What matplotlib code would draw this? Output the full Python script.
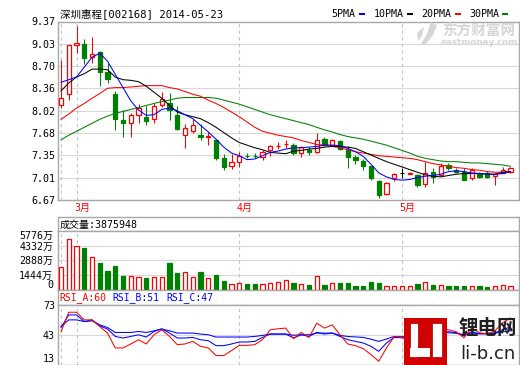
import numpy as np
import matplotlib
matplotlib.use("Agg")
import matplotlib.pyplot as plt
from matplotlib.patches import Rectangle, Polygon

plt.rcParams["font.family"] = ["DejaVu Sans Mono", "Noto Sans CJK SC"]

# ── data ────────────────────────────────────────────────────────────
TITLE = "深圳惠程[002168] 2014-05-23"

opens = [8.10, 8.27, 9.02, 9.03, 8.83, 8.91, 8.60, 8.28, 7.88, 7.83,
         7.96, 7.92, 7.89, 8.10, 8.13, 7.96, 7.66, 7.71, 7.65, 7.62,
         7.58, 7.30, 7.19, 7.25, 7.34, 7.34, 7.32, 7.42, 7.48, 7.51,
         7.50, 7.38, 7.42, 7.39, 7.59, 7.50, 7.56, 7.42, 7.32, 7.26,
         7.18, 6.95, 6.76, 7.00, 7.08, 7.07, 7.05, 6.91, 7.10, 7.05,
         7.20, 7.12, 7.10, 7.00, 7.08, 7.08, 7.03, 7.08, 7.09]
highs = [8.79, 9.02, 9.30, 9.10, 9.14, 8.92, 8.74, 8.32, 8.03, 7.99,
         8.12, 8.09, 8.13, 8.31, 8.29, 8.09, 7.82, 7.89, 7.82, 7.70,
         7.60, 7.37, 7.37, 7.39, 7.38, 7.38, 7.43, 7.50, 7.54, 7.58,
         7.53, 7.48, 7.47, 7.69, 7.63, 7.59, 7.58, 7.48, 7.35, 7.29,
         7.19, 6.97, 6.94, 7.08, 7.15, 7.10, 7.07, 7.25, 7.15, 7.23,
         7.23, 7.15, 7.15, 7.15, 7.10, 7.11, 7.07, 7.17, 7.17]
lows = [8.06, 8.18, 8.90, 8.72, 8.74, 8.40, 8.44, 7.73, 7.62, 7.63,
        7.84, 7.80, 7.84, 8.07, 7.88, 7.73, 7.45, 7.68, 7.58, 7.50,
        7.27, 7.13, 7.14, 7.17, 7.30, 7.30, 7.27, 7.33, 7.44, 7.45,
        7.35, 7.32, 7.35, 7.38, 7.48, 7.49, 7.43, 7.16, 7.22, 7.13,
        6.97, 6.70, 6.75, 6.95, 7.01, 7.06, 6.87, 6.86, 6.93, 7.04,
        7.13, 7.08, 6.97, 6.98, 7.00, 7.00, 6.90, 7.08, 7.08]
closes = [8.22, 9.01, 9.04, 8.82, 8.88, 8.60, 8.50, 7.89, 7.84, 7.95,
          8.06, 7.87, 8.09, 8.20, 8.03, 7.75, 7.76, 7.80, 7.63, 7.64,
          7.30, 7.17, 7.25, 7.34, 7.33, 7.33, 7.40, 7.49, 7.49, 7.52,
          7.38, 7.47, 7.39, 7.58, 7.50, 7.58, 7.44, 7.32, 7.27, 7.19,
          7.00, 6.75, 6.92, 7.07, 7.08, 7.08, 6.90, 7.08, 7.02, 7.18,
          7.16, 7.10, 6.98, 7.12, 7.02, 7.02, 7.06, 7.13, 7.16]

ma5 = [8.45, 8.49, 8.53, 8.68, 8.83, 8.89, 8.77, 8.57, 8.37, 8.17,
       8.03, 7.95, 7.96, 8.04, 8.06, 8.02, 7.96, 7.90, 7.80, 7.70,
       7.59, 7.47, 7.38, 7.34, 7.28, 7.29, 7.34, 7.39, 7.41, 7.44,
       7.46, 7.46, 7.47, 7.48, 7.50, 7.50, 7.49, 7.45, 7.40, 7.33,
       7.21, 7.08, 7.02, 6.98, 6.97, 6.98, 7.01, 7.03, 7.04, 7.06,
       7.10, 7.11, 7.10, 7.08, 7.07, 7.06, 7.06, 7.07, 7.10]
ma10 = [8.32, 8.44, 8.53, 8.58, 8.65, 8.65, 8.64, 8.53, 8.49, 8.48,
        8.46, 8.39, 8.30, 8.21, 8.10, 8.00, 7.96, 7.93, 7.90, 7.84,
        7.77, 7.69, 7.61, 7.54, 7.50, 7.46, 7.43, 7.39, 7.38, 7.37,
        7.41, 7.42, 7.44, 7.45, 7.47, 7.48, 7.48, 7.47, 7.45, 7.40,
        7.35, 7.30, 7.25, 7.21, 7.17, 7.13, 7.09, 7.05, 7.03, 7.02,
        7.04, 7.06, 7.07, 7.07, 7.07, 7.06, 7.06, 7.09, 7.10]
ma20 = [7.89, 7.97, 8.06, 8.13, 8.21, 8.28, 8.36, 8.37, 8.37, 8.38,
        8.39, 8.40, 8.40, 8.40, 8.37, 8.35, 8.31, 8.27, 8.24, 8.18,
        8.13, 8.07, 8.00, 7.93, 7.85, 7.77, 7.71, 7.68, 7.65, 7.63,
        7.61, 7.57, 7.54, 7.51, 7.50, 7.48, 7.46, 7.43, 7.40, 7.38,
        7.36, 7.34, 7.33, 7.32, 7.31, 7.30, 7.28, 7.25, 7.22, 7.20,
        7.18, 7.16, 7.15, 7.13, 7.12, 7.10, 7.09, 7.09, 7.10]
ma30 = [7.58, 7.65, 7.71, 7.77, 7.83, 7.89, 7.94, 7.98, 8.01, 8.04,
        8.07, 8.10, 8.13, 8.16, 8.18, 8.21, 8.22, 8.22, 8.22, 8.22,
        8.21, 8.18, 8.15, 8.12, 8.08, 8.04, 8.00, 7.96, 7.93, 7.90,
        7.87, 7.84, 7.81, 7.77, 7.73, 7.70, 7.66, 7.63, 7.61, 7.59,
        7.56, 7.53, 7.50, 7.46, 7.42, 7.38, 7.33, 7.30, 7.28, 7.26,
        7.25, 7.25, 7.24, 7.23, 7.23, 7.22, 7.21, 7.20, 7.18]

# volume in 万 shares
volumes = [2259, 4979, 4291, 4056, 3241, 2586, 1866, 2357, 1375, 1375,
           1277, 1113, 1211, 1277, 2586, 1604, 1768, 1211, 1702, 1113,
           1473, 884, 557, 687, 589, 589, 557, 655, 753, 949,
           687, 557, 491, 1375, 491, 655, 687, 687, 393, 393,
           786, 687, 393, 393, 393, 393, 589, 753, 491, 458,
           393, 393, 393, 360, 393, 295, 360, 458, 388]
VOL_TITLE = "成交量:3875948"

rsi_a = [46, 65.7, 65.7, 58, 58, 51.3, 44.7, 29.7, 29.7, 33.7,
         38, 33.7, 43, 48, 41.3, 33, 33.7, 36.3, 31.3, 29.7,
         22, 22, 27, 32.3, 32.3, 33, 38, 48, 49, 49.7,
         39, 45.3, 40.3, 54.7, 49.7, 53, 43, 33.7, 32, 29,
         23, 16.3, 29.7, 41.3, 41, 35, 30, 45, 40, 50,
         48, 46, 40, 50, 45, 44, 47, 55, 60]
rsi_b = [50.3, 63, 63, 56.3, 58, 52, 48.7, 41.3, 39.7, 41.3,
         43, 40.7, 46.3, 49, 44.7, 39.7, 39.7, 40.3, 38, 37,
         32, 32, 33.7, 35.7, 35.7, 36.3, 40.3, 43.7, 43.7, 43.7,
         39.7, 43, 41.3, 45.3, 43.7, 44.7, 41.3, 38, 36.3, 34.7,
         31.3, 26.3, 34.7, 40.3, 40, 39, 36, 43, 41, 46,
         46, 45, 42, 46, 44, 44, 45, 48, 51]
rsi_c = [51.3, 58, 58, 56.3, 57, 53, 50.3, 45.3, 45.3, 45.3,
         46.3, 45.3, 47, 48.7, 47, 44.7, 44.7, 44.7, 43.7, 43,
         40.7, 40.7, 40.7, 40.7, 40.7, 41.3, 42.3, 43.7, 43.7, 43.7,
         42.5, 43, 43, 44.7, 44.7, 44.7, 42.3, 41.3, 40.8, 40.3,
         38.5, 36.3, 38.7, 41.3, 41, 41, 39.5, 43, 42, 45,
         45, 44.5, 43, 45, 44, 44, 44.5, 46, 47]
RSI_LABELS = ["RSI_A:60", "RSI_B:51", "RSI_C:47"]

price_ticks = [6.67, 7.01, 7.35, 7.68, 8.02, 8.36, 8.70, 9.03, 9.37]
vol_ticks = [0, 1444, 2888, 4332, 5776]
vol_tick_labels = ["0", "1444万", "2888万", "4332万", "5776万"]
rsi_ticks = [13, 43, 73]

month_idx = [2, 23, 44]
month_labels = ["3月", "4月", "5月"]
divider_idx = [0, 2, 23, 44]

ma_labels = ["5PMA", "10PMA", "20PMA", "30PMA"]

# ── style ───────────────────────────────────────────────────────────
RED = "#ff0000"
GREEN = "#008000"
BLUE = "#0000ff"
FRAME = "#a8a8a8"
GRID = "#d8d8d8"
DASH = "#c4c4c4"
MA_COLORS = [BLUE, "#000000", RED, GREEN]
W, H = 520, 365
BW = 0.56
XLIM = (-0.39, 59.1)
LW = 0.75


def rect(l, t, r, b):
    return [l / W, 1 - b / H, (r - l) / W, (b - t) / H]


def frame(ax):
    for s in ax.spines.values():
        s.set_color(FRAME)
        s.set_linewidth(1.0)


def dividers(ax):
    for d in divider_idx:
        ax.axvline(d, color=DASH, lw=0.8, ls=(0, (3, 3)), zorder=1)


fig = plt.figure(figsize=(W / 100, H / 100), dpi=100)
x = np.arange(len(closes))

# ── price panel ─────────────────────────────────────────────────────
ax = fig.add_axes(rect(58, 21.5, 519, 200))
ax.set_xlim(XLIM)
ax.set_ylim(6.67, 9.37)
frame(ax)
for p in price_ticks[1:-1]:
    ax.axhline(p, color=GRID, lw=0.8, zorder=0)
dividers(ax)
ax.set_xticks([])
ax.set_yticks(price_ticks)
ax.set_yticklabels([f"{p:.2f}" for p in price_ticks])
ax.tick_params(axis="y", length=0, pad=2.2, labelsize=7.2)

for i in x:
    o, h, l, c = opens[i], highs[i], lows[i], closes[i]
    if c > o:
        ax.vlines(i, c, h, color=RED, lw=LW, zorder=2)
        ax.vlines(i, l, o, color=RED, lw=LW, zorder=2)
        ax.add_patch(Rectangle((i - BW / 2, o), BW, c - o, facecolor="white",
                               edgecolor=RED, lw=0.9, zorder=3))
    elif c < o:
        ax.vlines(i, l, h, color=GREEN, lw=LW, zorder=2)
        ax.add_patch(Rectangle((i - BW / 2, c), BW, o - c, facecolor=GREEN,
                               edgecolor=GREEN, lw=0.9, zorder=3))
    else:
        ax.vlines(i, l, h, color="black", lw=LW, zorder=2)
        ax.hlines(o, i - BW / 2, i + BW / 2, color="black", lw=LW, zorder=3)

for ma, col in zip([ma30, ma20, ma10, ma5], MA_COLORS[::-1]):
    ax.plot(x, ma, color=col, lw=LW, zorder=4)

for idx, lab in zip(month_idx, month_labels):
    ax.annotate(lab, xy=(idx, 0), xycoords=("data", "axes fraction"),
                xytext=(-1.8, -6.0), textcoords="offset points",
                ha="left", va="center", color=RED, fontsize=7.2)

# ── volume panel ────────────────────────────────────────────────────
axvh = fig.add_axes(rect(58, 217, 519, 231))
axvh.set_xticks([])
axvh.set_yticks([])
frame(axvh)
axvh.text(0.004, 0.45, VOL_TITLE, transform=axvh.transAxes, ha="left",
          va="center", fontsize=7.2)

axv = fig.add_axes(rect(58, 231, 519, 289.5))
axv.set_xlim(XLIM)
axv.set_ylim(0, vol_ticks[-1])
frame(axv)
for v in vol_ticks[1:-1]:
    axv.axhline(v, color=GRID, lw=0.8, zorder=0)
dividers(axv)
up = [c >= o for o, c in zip(opens, closes)]
axv.bar(x, volumes, width=BW, color=["white" if u else GREEN for u in up],
        edgecolor=[RED if u else GREEN for u in up], lw=0.9, zorder=3)
axv.set_xticks([])
axv.set_yticks(vol_ticks)
axv.set_yticklabels(vol_tick_labels)
axv.tick_params(axis="y", length=0, pad=3.5, labelsize=7.2)
vl = axv.get_yticklabels()
vl[0].set_va("bottom")
vl[-1].set_va("top")

# ── RSI panel ───────────────────────────────────────────────────────
axrh = fig.add_axes(rect(58, 289.5, 519, 305))
axrh.set_xticks([])
axrh.set_yticks([])
frame(axrh)
for xp, lab, col in zip([0.004, 0.119, 0.236], RSI_LABELS, [RED, BLUE, BLUE]):
    axrh.text(xp, 0.45, lab, transform=axrh.transAxes, ha="left",
              va="center", fontsize=7.0, color=col)

axr = fig.add_axes(rect(58, 305, 519, 364.5))
axr.set_xlim(XLIM)
axr.set_ylim(rsi_ticks[0], rsi_ticks[-1])
frame(axr)
axr.axhline(rsi_ticks[1], color=GRID, lw=0.8, zorder=0)
dividers(axr)
axr.plot(x, rsi_c, color=BLUE, lw=LW, zorder=3)
axr.plot(x, rsi_b, color=BLUE, lw=LW, zorder=3)
axr.plot(x, rsi_a, color=RED, lw=LW, zorder=4)
axr.set_xticks([])
axr.set_yticks(rsi_ticks)
axr.set_yticklabels([str(t) for t in rsi_ticks])
axr.tick_params(axis="y", length=0, pad=2.2, labelsize=7.2)
axr.get_yticklabels()[0].set_va("bottom")

# ── overlay: title, legend, watermarks ──────────────────────────────
ov = fig.add_axes([0, 0, 1, 1], zorder=10)
ov.set_xlim(0, W)
ov.set_ylim(H, 0)
ov.axis("off")
ov.patch.set_alpha(0)

ov.text(60, 14, TITLE, ha="left", va="center", fontsize=7.6)

for lab, col, lx in zip(ma_labels, MA_COLORS, [331.5, 374, 421.5, 469]):
    t = ov.text(lx, 14, lab, ha="left", va="center", fontsize=7.2)
    dx = 6.02 * len(lab) + 3
    ov.add_patch(Rectangle((lx + dx, 12.5), 6, 2.8, color=col, lw=0))

# eastmoney watermark
WM = "#d6d6d6"
ov.add_patch(Polygon([(431, 22), (437, 25), (433, 35), (425, 45), (421, 44),
                      (427, 34)], color=WM, lw=0))
ov.add_patch(Polygon([(417, 33), (424, 27), (422, 36), (418, 41)],
                     color=WM, lw=0))
ov.text(479, 31, "东方财富网", ha="center", va="center", fontsize=10.5,
        fontweight="bold", color=WM, family="Noto Sans CJK SC")
ov.text(479, 42.5, "eastmoney.com", ha="center", va="center", fontsize=6.3,
        fontweight="bold", color=WM, family="DejaVu Sans")

# li-b.cn logo
ov.add_patch(Rectangle((403.5, 317.5), 43, 47, color="#d20000", lw=0))
ov.add_patch(Rectangle((409.5, 323.3), 8.5, 33.3, facecolor="white",
                       edgecolor="#a00000", lw=0.5))
ov.add_patch(Rectangle((409.5, 348.3), 20.5, 8.3, facecolor="white",
                       edgecolor="none", lw=0))
ov.add_patch(Rectangle((431.7, 323.3), 10, 33.3, facecolor="white",
                       edgecolor="#a00000", lw=0.5))
ov.text(488, 328, "锂电网", ha="center", va="center", fontsize=14,
        fontweight="bold", color="#202020", family="Noto Sans CJK SC")
ov.text(488, 354, "li-b.cn", ha="center", va="center", fontsize=13,
        color="#202020", family="DejaVu Sans")

fig.savefig("out.png", dpi=100)
